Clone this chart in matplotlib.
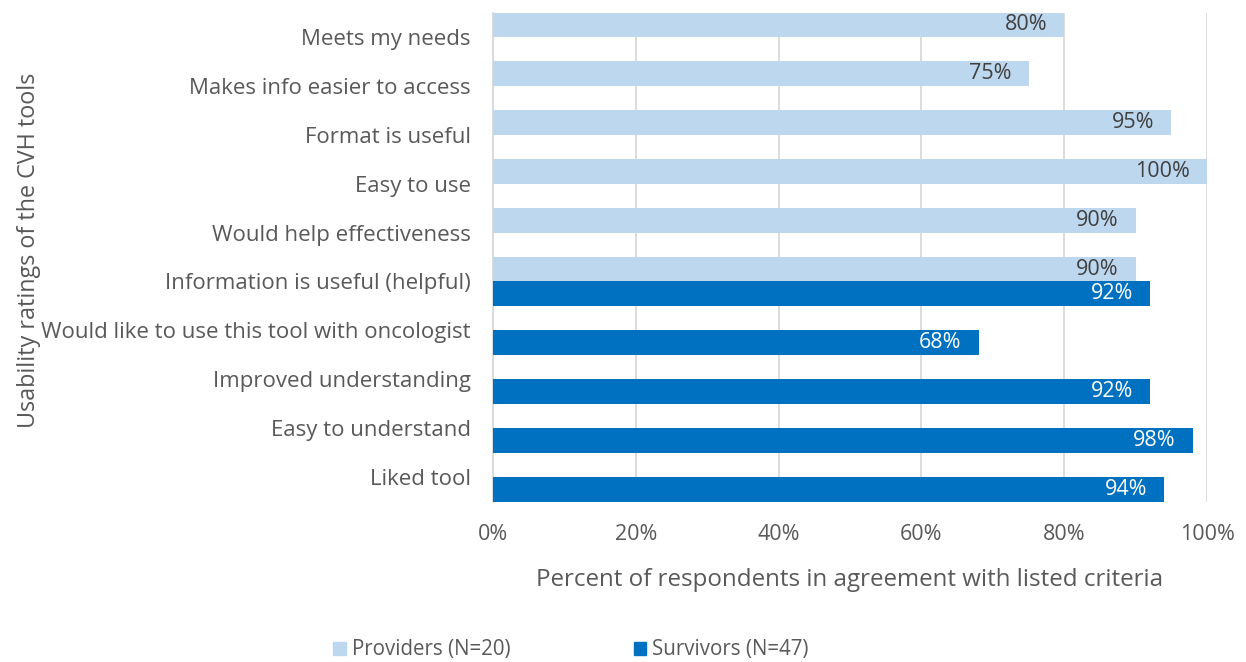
import matplotlib
matplotlib.use("Agg")
import matplotlib.pyplot as plt
import numpy as np
from matplotlib.patches import Patch

categories = ["Meets my needs", "Makes info easier to access", "Format is useful",
              "Easy to use", "Would help effectiveness", "Information is useful (helpful)",
              "Would like to use this tool with oncologist", "Improved understanding",
              "Easy to understand", "Liked tool"]
providers = [80, 75, 95, 100, 90, 90, None, None, None, None]
survivors = [None, None, None, None, None, 92, 68, 92, 98, 94]
xticks = [0, 20, 40, 60, 80, 100]

plt.rcParams['font.family'] = ['Open Sans', 'DejaVu Sans']
TXT = '#595959'
C_PROV = '#BDD7EE'
C_SURV = '#0070C0'

fig = plt.figure(figsize=(12.46, 6.62), dpi=100)
ax = fig.add_axes([493/1246, 1-501.5/662, (1207-493)/1246, (501.5-12.5)/662])

y = np.arange(len(categories))
h = 0.5
for i, v in enumerate(providers):
    if v is not None:
        ax.barh(y[i] - h/2, v, height=h, color=C_PROV, zorder=3)
        ax.annotate(f"{v}%", (v, y[i] - h/2), xytext=(-17, 0), textcoords='offset pixels',
                    ha='right', va='center', color='#404040', fontsize=15.5, zorder=4)
for i, v in enumerate(survivors):
    if v is not None:
        ax.barh(y[i] + h/2, v, height=h, color=C_SURV, zorder=3)
        ax.annotate(f"{v}%", (v, y[i] + h/2), xytext=(-17, 0), textcoords='offset pixels',
                    ha='right', va='center', color='white', fontsize=15.5, zorder=4)

ax.set_xlim(0, 100)
ax.set_ylim(len(categories) - 0.5, -0.5)
ax.set_xticks(xticks)
ax.set_xticklabels([f"{t}%" for t in xticks], fontsize=15.5, color=TXT)
ax.set_yticks(y)
ax.set_yticklabels(categories, fontsize=16, color=TXT)
ax.tick_params(axis='both', length=0)
ax.tick_params(axis='x', pad=16)
ax.tick_params(axis='y', pad=16)
ax.grid(axis='x', color='#D9D9D9', linewidth=1.3, zorder=0)
for s in ['top', 'right', 'bottom']:
    ax.spines[s].set_visible(False)
ax.spines['left'].set_color('#D9D9D9')
ax.spines['left'].set_linewidth(1.3)

ax.set_xlabel("Percent of respondents in agreement with listed criteria", fontsize=17.4, color=TXT, labelpad=17)
fig.text(29/1246, 1-250/662, "Usability ratings of the CVH tools", rotation=90, fontsize=16.8,
         color=TXT, ha='center', va='center')

handles = [Patch(color=C_PROV, label="Providers (N=20)"), Patch(color=C_SURV, label="Survivors (N=47)")]
fig.legend(handles=handles, loc='center', bbox_to_anchor=(571/1246, 1-650/662), ncol=2,
           frameon=False, fontsize=14.8, handlelength=0.6, handleheight=0.6, columnspacing=6.0,
           handletextpad=0.3, labelcolor=TXT)

fig.savefig("out.png", dpi=100)
